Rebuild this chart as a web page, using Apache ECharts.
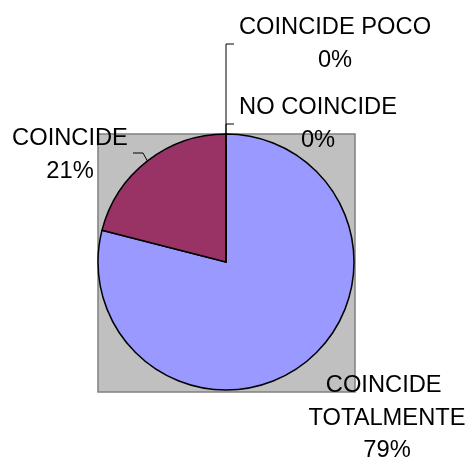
<!DOCTYPE html>
<html>
<head>
<meta charset="utf-8">
<script src="https://cdn.jsdelivr.net/npm/echarts@6/dist/echarts.min.js"></script>
<style>
  html, body { margin: 0; padding: 0; background: #fff; }
  #chart { width: 466px; height: 459px; }
</style>
</head>
<body>
<div id="chart"></div>
<script>
// datos del grafico
const categories = ['COINCIDE TOTALMENTE', 'COINCIDE', 'NO COINCIDE', 'COINCIDE POCO'];
const values = [79, 21, 0, 0];
const colors = ['#9999FF', '#993366', '#FFFFCC', '#CCFFFF'];

// posicion de las etiquetas (centro del bloque de texto) y lineas guia
const labelPos = [
  { x: 387, y: 418, line: null },
  { x: 70, y: 155, line: [[148, 162], [143, 153], [133, 153]] },
  { x: 318, y: 124, line: [[226, 134], [226, 124], [234, 124]] },
  { x: 335, y: 44, line: [[226, 134], [226, 44], [234, 44]] },
];

const chart = echarts.init(document.getElementById('chart'));

const option = {
  animation: false,
  backgroundColor: '#fff',
  graphic: [
    {
      // area de trazado gris (estilo Excel)
      type: 'rect',
      z: 0,
      shape: { x: 98, y: 134, width: 257, height: 258 },
      style: { fill: '#C0C0C0', stroke: '#808080', lineWidth: 1.5 },
    },
  ],
  series: [
    {
      type: 'pie',
      z: 2,
      center: [226, 262],
      radius: 128,
      startAngle: 90,
      clockwise: true,
      avoidLabelOverlap: false,
      stillShowZeroSum: true,
      minShowLabelAngle: 0,
      data: categories.map((name, i) => ({
        name,
        value: values[i],
        itemStyle: { color: colors[i] },
        label: i === 0 ? { width: 170, overflow: 'break' } : {},
        labelLine: { show: i !== 0 },
      })),
      itemStyle: { borderColor: '#000', borderWidth: 1.5 },
      label: {
        show: true,
        position: 'outside',
        formatter: '{b}\n{d}%',
        color: '#000',
        fontFamily: 'Liberation Sans, Arial, sans-serif',
        fontSize: 23.7,
        lineHeight: 32.5,
        align: 'center',
      },
      labelLine: {
        show: true,
        lineStyle: { color: '#000', width: 1 },
      },
      labelLayout: params => {
        const p = labelPos[params.dataIndex];
        const out = {
          x: p.x,
          y: p.y,
          align: 'center',
          verticalAlign: 'middle',
        };
        if (p.line) out.labelLinePoints = p.line;
        return out;
      },
      emphasis: { disabled: true },
    },
  ],
};

chart.setOption(option);
</script>
</body>
</html>
